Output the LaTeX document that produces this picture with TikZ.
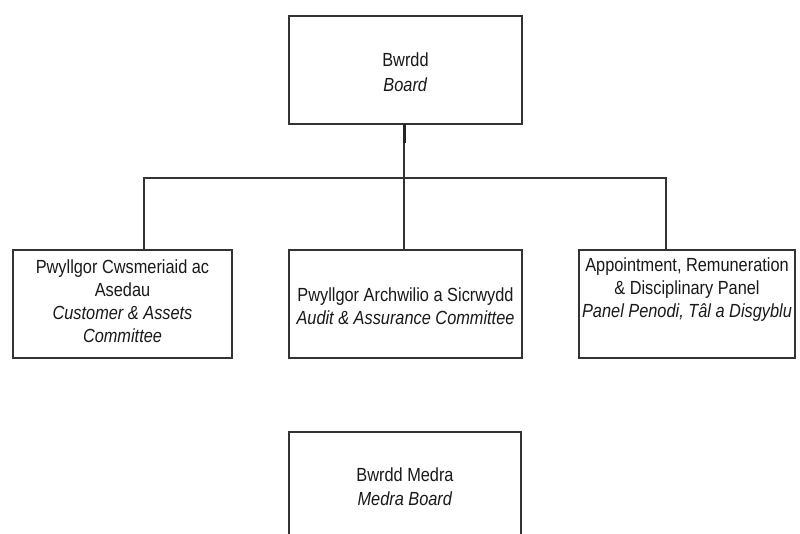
\documentclass[tikz,border=0pt]{standalone}
\usepackage{fontspec}
\setmainfont{Liberation Sans}[FakeStretch=0.86]
\begin{document}
\begin{tikzpicture}[x=1pt,y=-1pt,
  box/.style={draw=black!80, line width=1.8pt, fill=white, inner sep=0pt, outer sep=0pt},
  txt/.style={align=center, font=\fontsize{19}{23}\selectfont, text=black!90, inner sep=0pt},
  conn/.style={draw=black!80, line width=1.3pt}]
\useasboundingbox (0,0) rectangle (800,534);
\fill[white] (0,0) rectangle (800,534);
% boxes
\node[box, minimum width=233pt, minimum height=108pt] (top) at (405.5,70) {};
\node[box, minimum width=219pt, minimum height=108pt] (left) at (122.5,304) {};
\node[box, minimum width=233pt, minimum height=108pt] (mid) at (405.5,304) {};
\node[box, minimum width=216pt, minimum height=108pt] (right) at (687,304) {};
\node[box, minimum width=232pt, minimum height=120pt] (bot) at (405,492) {};
% texts
\node[txt] (ttop) at (405.5,72) {Bwrdd\\[2pt]\textit{Board}};
\node[txt] (tleft) at (122.5,301) {Pwyllgor Cwsmeriaid ac\\Asedau\\\textit{Customer \& Assets}\\\textit{Committee}};
\node[txt] (tmid) at (405.5,306) {Pwyllgor Archwilio a Sicrwydd\\\textit{Audit \& Assurance Committee}};
\node[txt] (tright) at (687,290) {Appointment, Remuneration\\\& Disciplinary Panel\\\textit{Panel Penodi, Tâl a Disgyblu}};
\node[txt] (tbot) at (405,487) {Bwrdd Medra\\[1pt]\textit{Medra Board}};
% connectors
\coordinate (jm) at (404,178);
\coordinate (jl) at (144,178);
\coordinate (jr) at (666,178);
\draw[conn] (top.south -| jm) -- (mid.north -| jm);
\draw[draw=black!85, line width=3pt] (top.south -| jm) -- ++(0,19);
\draw[conn] (left.north -| jl) -- (jl) -- (jr) -- (right.north -| jr);
\end{tikzpicture}
\end{document}
